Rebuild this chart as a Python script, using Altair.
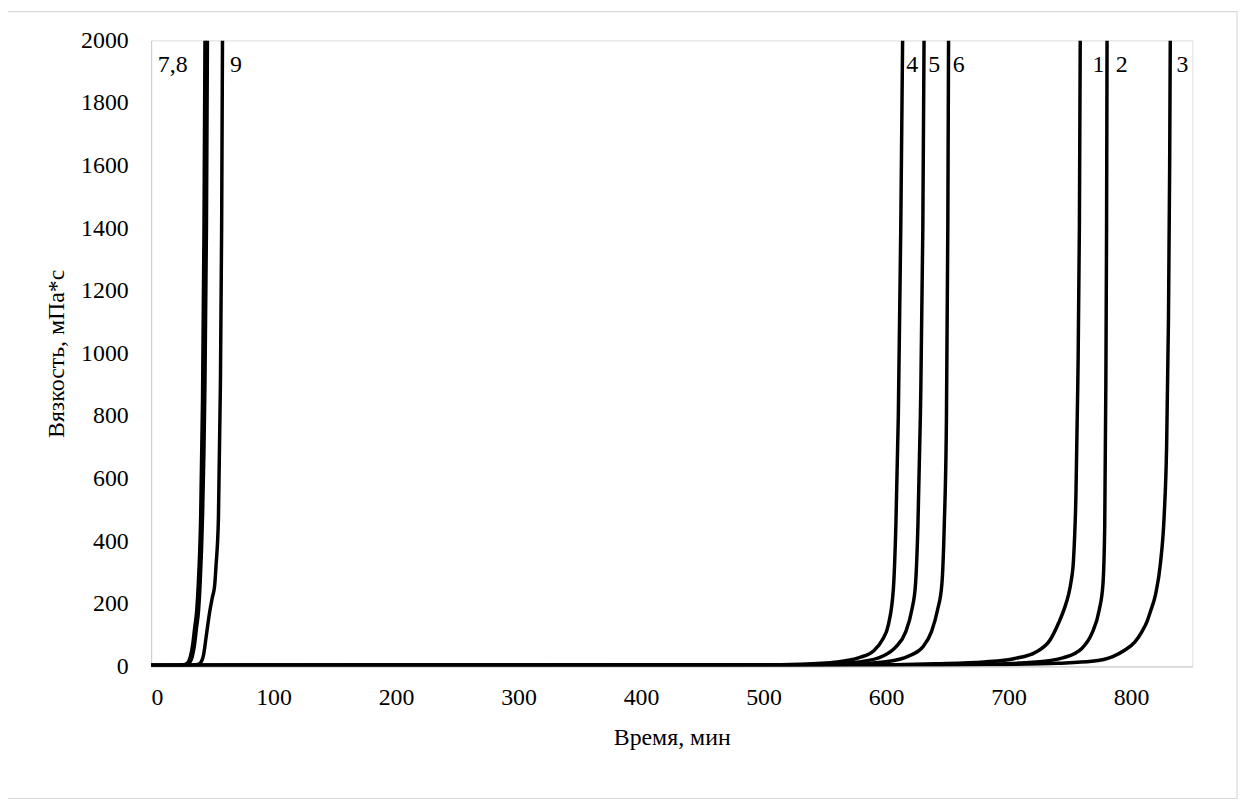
import altair as alt
import pandas as pd

# Time (min) and viscosity (mPa*s) for each curve
t7 = [0, 20, 27, 30, 32, 34, 35.5, 37.3, 38.5, 40.5, 42, 43.2, 44]
v7 = [3, 3, 5, 12, 30, 70, 120, 180, 260, 480, 850, 1400, 2000]
t8 = [0, 22, 28.5, 31.5, 33.5, 35.5, 37, 38.8, 40, 42, 43.8, 45.2, 46]
v8 = [3, 3, 5, 12, 30, 70, 120, 180, 260, 480, 850, 1400, 2000]
t9 = [0, 30, 38, 41, 43, 45, 47.8, 50, 51.9, 53, 55, 56.6, 57.6, 58.3]
v9 = [3, 3, 6, 15, 40, 95, 173, 220, 258, 320, 476, 900, 1400, 2000]

t4 = [0, 480, 530, 560, 578, 590, 597, 602, 606, 608, 610, 612, 613.5]
v4 = [3, 4, 7, 14, 28, 50, 85, 135, 250, 450, 800, 1400, 2000]
t5 = [0, 500, 550, 580, 597, 608, 616, 621, 624, 626, 628, 630, 631]
v5 = [3, 4, 7, 15, 32, 62, 110, 180, 260, 450, 800, 1400, 2000]
t6 = [0, 520, 570, 600, 618, 630, 637, 642, 645.5, 647.5, 649.3, 650.4, 651]
v6 = [3, 4, 7, 15, 32, 62, 110, 180, 260, 450, 800, 1400, 2000]

t1 = [0, 580, 640, 680, 705, 722, 734, 741, 746, 749, 751, 753, 755, 756.5, 757.8, 758.5]
v1 = [3, 4, 8, 14, 25, 45, 85, 140, 190, 230, 270, 340, 550, 900, 1400, 2000]
t2 = [0, 620, 680, 720, 745, 760, 768, 774, 777, 778.5, 779.4, 780, 780.4]
v2 = [3, 4, 7, 13, 28, 58, 105, 180, 260, 450, 900, 1400, 2000]
t3 = [0, 650, 700, 740, 768, 785, 795, 803, 809, 813, 815.6, 820, 824, 827, 829, 830.5, 831.5, 832]
v3 = [3, 4, 6, 10, 16, 31, 52, 77, 112, 143, 173, 230, 330, 480, 700, 1100, 1600, 2000]

series = [("7", t7, v7), ("8", t8, v8), ("9", t9, v9),
          ("4", t4, v4), ("5", t5, v5), ("6", t6, v6),
          ("1", t1, v1), ("2", t2, v2), ("3", t3, v3)]

label_text = ["7,8", "9", "4", "5", "6", "1", "2", "3"]
label_t = [5.5, 64.5, 616.5, 634.5, 654.5, 768.5, 787.5, 837]
label_v = [1920, 1920, 1920, 1920, 1920, 1920, 1920, 1920]

x_ticks = [0, 100, 200, 300, 400, 500, 600, 700, 800]
y_ticks = [0, 200, 400, 600, 800, 1000, 1200, 1400, 1600, 1800, 2000]

rows = []
for name, ts, vs in series:
    for i, (t, v) in enumerate(zip(ts, vs)):
        rows.append({"s": name, "i": i, "t": t, "v": v})
df = pd.DataFrame(rows)
labels = pd.DataFrame({"txt": label_text, "t": label_t, "v": label_v})

FONT = "'Liberation Serif', 'Times New Roman', Times, serif"
W, H = 1048, 630

xscale = alt.Scale(domain=[0, 850], nice=False, zero=False)
yscale = alt.Scale(domain=[0, 2000], nice=False)

lines = alt.Chart(df).mark_line(color="black", strokeWidth=3.5, interpolate="monotone", clip=True).encode(
    x=alt.X("t:Q", scale=xscale,
            axis=alt.Axis(values=x_ticks, title="Время, мин", ticks=False, grid=False, format="d",
                          labelPadding=19, labelFontSize=24, labelFont=FONT, labelColor="black",
                          titleFontSize=24, titleFont=FONT, titleFontWeight="normal", titleColor="black",
                          titleX=W / 2, titleY=72, titleBaseline="middle",
                          domainColor="#cfcfcf", domainWidth=1.2)),
    y=alt.Y("v:Q", scale=yscale,
            axis=alt.Axis(values=y_ticks, title="Вязкость, мПа*с", ticks=False, grid=False, format="d",
                          labelPadding=23, labelFontSize=24, labelFont=FONT, labelColor="black",
                          titleFontSize=24, titleFont=FONT, titleFontWeight="normal", titleColor="black",
                          titleX=-95, titleY=H / 2, titleAngle=-90, titleAlign="center",
                          titleBaseline="middle",
                          domainColor="#cfcfcf", domainWidth=1.2)),
    detail="s:N",
    order="i:Q",
)

text = alt.Chart(labels).mark_text(font=FONT, fontSize=24, align="left", baseline="middle",
                                   color="black").encode(
    x=alt.X("t:Q", scale=xscale),
    y=alt.Y("v:Q", scale=yscale),
    text="txt:N",
)

border = alt.Chart(pd.DataFrame({"a": [1]})).mark_rect(
    fill=None, stroke="#d9d9d9", strokeWidth=1.2, clip=False
).encode(
    x=alt.value(-145), x2=alt.value(1093), y=alt.value(-29), y2=alt.value(763)
)

chart = alt.layer(border, lines, text).properties(
    width=W, height=H,
    autosize=alt.AutoSizeParams(type="none"),
    padding={"left": 144, "top": 30, "right": 50, "bottom": 142},
).configure_view(stroke=None).configure(background="white")

chart.save("out.html", embed_options={"renderer": "svg", "actions": False})
